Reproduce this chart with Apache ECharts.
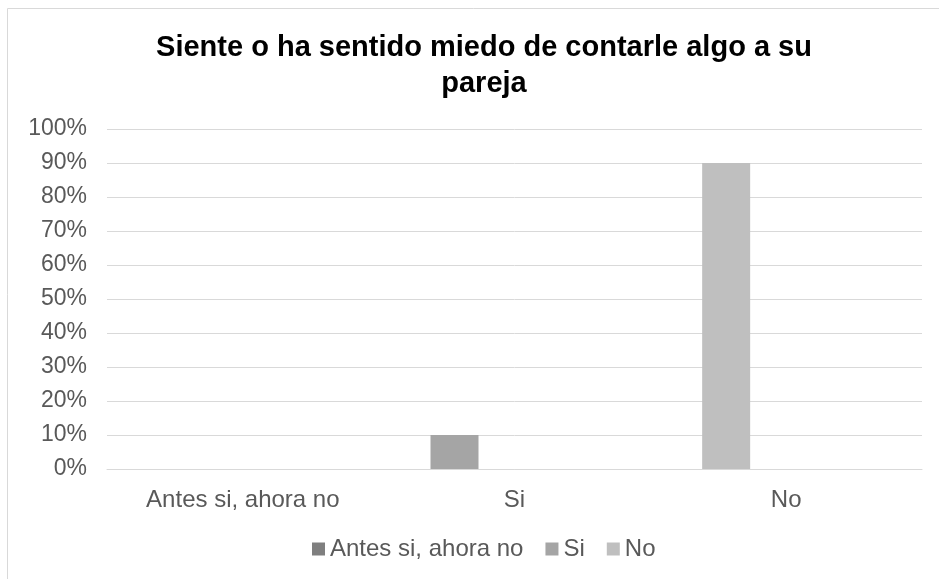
<!DOCTYPE html>
<html>
<head>
<meta charset="utf-8">
<script src="https://cdn.jsdelivr.net/npm/echarts@6/dist/echarts.min.js"></script>
<style>html,body{margin:0;padding:0;background:#fff}#c{width:939px;height:579px}</style>
</head>
<body>
<div id="c"></div>
<script>
const categories = ['Antes si, ahora no', 'Si', 'No'];
const seriesNames = ['Antes si, ahora no', 'Si', 'No'];
const antesValues = [0, 0, 0];
const siValues = [0, 10, 0];
const noValues = [0, 0, 90];
const spacerValues = [null, null, null];
const yTicks = [0, 10, 20, 30, 40, 50, 60, 70, 80, 90, 100];

const colors = ['#7f7f7f', '#a5a5a5', '#bfbfbf'];
const font = "'Liberation Sans', Arial, sans-serif";
const chart = echarts.init(document.getElementById('c'), null, {renderer: 'canvas'});
const barW = 48;
chart.setOption({
  animation: false,
  color: colors,
  graphic: [{
    type: 'rect', shape: {x: 7.5, y: 8.5, width: 1000, height: 1000},
    style: {fill: 'none', stroke: '#d9d9d9', lineWidth: 1}, silent: true
  }],
  title: {
    text: 'Siente o ha sentido miedo de contarle algo a su\npareja',
    left: 479, top: 25, textAlign: 'center',
    textStyle: {fontFamily: font, fontSize: 29, fontWeight: 'bold', color: '#000', lineHeight: 36}
  },
  legend: {
    data: seriesNames,
    left: 312, top: 537, padding: 0,
    itemWidth: 13, itemHeight: 13, itemGap: 22,
    icon: 'rect',
    textStyle: {fontFamily: font, fontSize: 24, color: '#595959'}
  },
  grid: {left: 107, right: 17, top: 129, bottom: 110},
  xAxis: {
    type: 'category', data: categories,
    axisLine: {lineStyle: {color: '#d9d9d9', width: 1}},
    axisTick: {show: false},
    axisLabel: {fontFamily: font, fontSize: 24, color: '#595959', margin: 19}
  },
  yAxis: {
    type: 'value', min: yTicks[0], max: yTicks[yTicks.length - 1], interval: 10,
    axisLine: {show: false}, axisTick: {show: false},
    splitLine: {lineStyle: {color: '#d9d9d9', width: 1}},
    axisLabel: {fontFamily: font, fontSize: 23, color: '#595959', margin: 20, formatter: '{value}%'}
  },
  series: [
    {name: seriesNames[0], type: 'bar', stack: 'a', data: antesValues, barWidth: barW, itemStyle: {color: colors[0]}},
    {name: seriesNames[1], type: 'bar', stack: 'a', data: siValues, barWidth: barW, itemStyle: {color: colors[1]}},
    {name: seriesNames[2], type: 'bar', stack: 'a', data: noValues, barWidth: barW, itemStyle: {color: colors[2]}},
    {name: 'spacer', type: 'bar', data: spacerValues, barWidth: barW, barGap: '150%', silent: true, itemStyle: {color: 'rgba(0,0,0,0)'}}
  ]
});
</script>
</body>
</html>
